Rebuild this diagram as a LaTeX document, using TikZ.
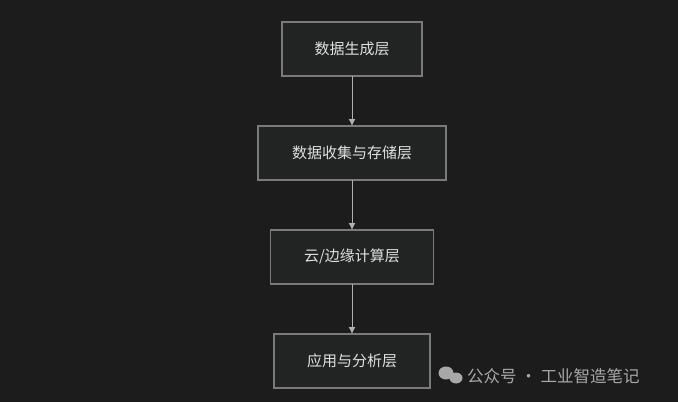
\documentclass[tikz,border=0pt]{standalone}
\usepackage{fontspec}
\newfontfamily\cjk{Noto Sans CJK SC}
\usetikzlibrary{positioning,arrows.meta}
\definecolor{bgc}{HTML}{1C1C1C}
\definecolor{boxc}{HTML}{222424}
\definecolor{linec}{HTML}{7A7A7A}
\definecolor{arrc}{HTML}{B0B0B0}
\definecolor{txtc}{HTML}{E0E0E0}
\definecolor{markc}{HTML}{A8A8A8}
\begin{document}
\begin{tikzpicture}[x=1pt, y=-1pt,
    layer/.style={draw=linec, line width=1.5pt, fill=boxc,
        text=txtc, font=\cjk\fontsize{15}{17}\selectfont,
        minimum height=54pt, inner xsep=0pt, outer sep=0pt},
    link/.style={draw=arrc, line width=1pt, -{Latex[width=7pt,length=7pt]}},
    node distance = 50pt
    ]
    \fill[bgc] (0,0) rectangle (678,402);
    \useasboundingbox (0,0) rectangle (678,402);
    \node[layer, minimum width=140pt] (gen) at (352,49) {数据生成层};
    \node[layer, minimum width=188pt, below=of gen] (store) {数据收集与存储层};
    \node[layer, minimum width=163pt, below=of store] (cloud) {云/边缘计算层};
    \node[layer, minimum width=156pt, below=of cloud] (app) {应用与分析层};
    \draw[link] (gen) -- (store);
    \draw[link] (store) -- (cloud);
    \draw[link] (cloud) -- (app);
    % watermark
    \fill[markc] (446,373) ellipse (7.5pt and 6.5pt);
    \fill[markc] (456,378) ellipse (6.5pt and 5.5pt);
    \node[text=markc, font=\cjk\fontsize{16.5}{18}\selectfont, anchor=west, inner sep=0pt]
        (mark) at (467,376) {公众号 · 工业智造笔记};
\end{tikzpicture}
\end{document}
